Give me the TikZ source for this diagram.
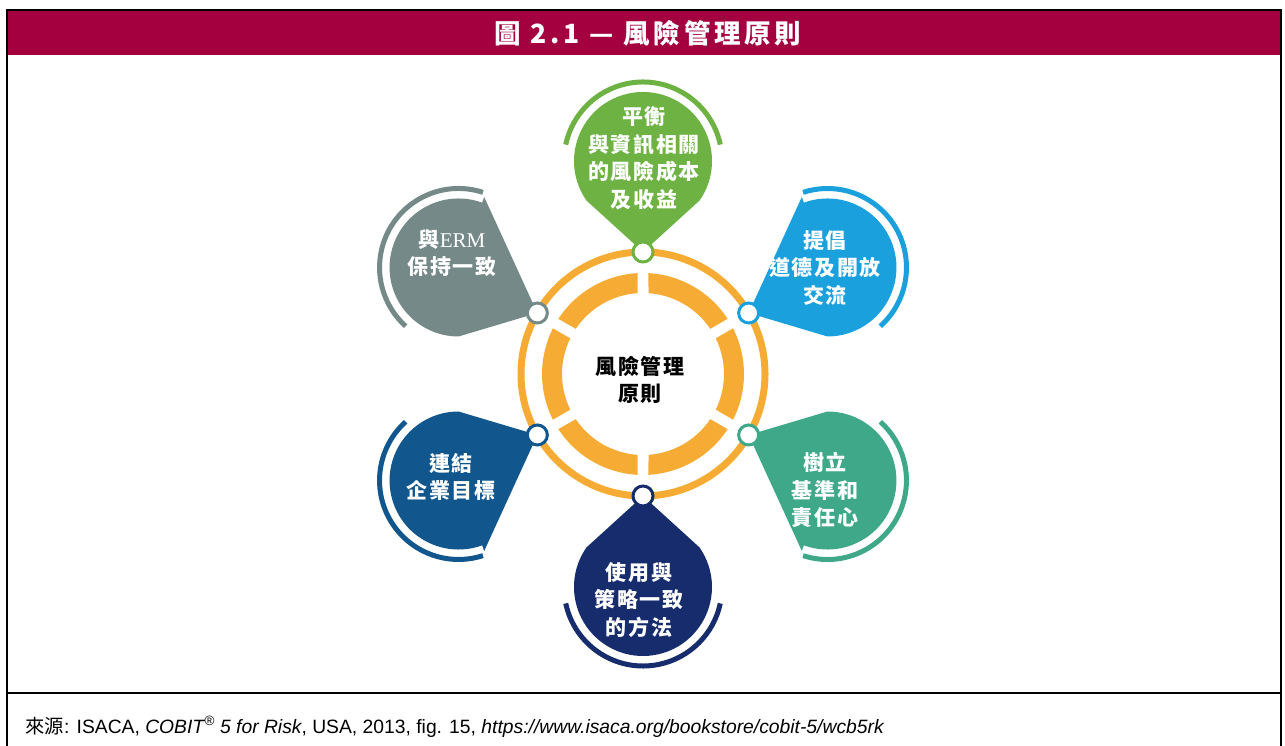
\documentclass[tikz,border=0pt]{standalone}
\usepackage{fontspec}
\setmainfont{Liberation Sans}
\newfontfamily\cjk{Noto Sans CJK TC}
\newfontfamily\cjkwide{Noto Sans CJK TC}[LetterSpace=8]
\newfontfamily\cjktitle{Noto Sans CJK TC}[LetterSpace=14]
\newfontfamily\serifen{Liberation Serif}
\usetikzlibrary{calc}

\definecolor{titlered}{RGB}{164,0,64}
\definecolor{ringorange}{RGB}{246,172,52}
\definecolor{pingreen}{RGB}{110,178,68}
\definecolor{pinblue}{RGB}{27,160,222}
\definecolor{pingray}{RGB}{118,137,137}
\definecolor{pinteal}{RGB}{62,168,136}
\definecolor{pinsteel}{RGB}{18,86,142}
\definecolor{pinnavy}{RGB}{22,44,108}

% #1 name, #2 colour, #3 angle round the ring, #4 start angle, #5 notch, #6 end angle
\newcommand{\riskpin}[6]{%
  \coordinate (#1) at ($(R)+(#3:213)$);
  \coordinate (#1-tip) at ($(R)+(#3:122)$);
  \fill[#2] (#1-tip) -- ($(#1)+(#4:{69+#5})$) -- ($(#1)+(#4:69)$)
    arc[start angle=#4, end angle=#6, radius=69] -- cycle;
  \draw[#2, line width=5pt] ($(#1)+({#3-78}:79)$) arc[start angle={#3-78}, end angle={#3+78}, radius=79];
  \draw[hook, draw=#2] (#1-tip) circle[radius=10];
}

\begin{document}
\begin{tikzpicture}[x=1pt, y=1pt]
			\tikzstyle{pintext} = [text=white, align=center, font=\cjkwide\bfseries\fontsize{21}{27.5}\selectfont]
			\tikzstyle{hook} = [line width=3pt, fill=white]
			\useasboundingbox (0,0) rectangle (1285,746);
			\fill[titlered] (7,691) rectangle (1281,736);
			\draw[line width=2pt] (7,0) -- (7,736) -- (1281,736) -- (1281,0);
			\draw[line width=1.5pt] (7,53) -- (1281,53);
			\node[text=white, font=\cjktitle\bfseries\fontsize{26.5}{26.5}\selectfont] (title) at (648,713) {圖 2.1 — 風險管理原則};
			\node[anchor=west, font=\fontsize{19.3}{19.3}\selectfont] (source) at (22,19) {{\cjk 來源}: ISACA, \textit{COBIT\textsuperscript{®} 5 for Risk}, USA, 2013, fig. 15, \textit{https://www.isaca.org/bookstore/cobit-5/wcb5rk}};
			\coordinate (R) at (643,372);
			\draw[ringorange, line width=7pt] (R) circle[radius=122];
			\foreach \a in {0,60,...,300}
				\fill[ringorange] ($(R)+({\a-26.9}:101)$) arc[start angle={\a-26.9}, end angle={\a+26.9}, radius=101]
					-- ($(R)+({\a+26.1}:81)$) arc[start angle={\a+26.1}, end angle={\a-26.1}, radius=81] -- cycle;
			\riskpin{green}{pingreen}{90}{325}{0}{575}
			\riskpin{blue}{pinblue}{30}{110}{6}{-90}
			\riskpin{gray}{pingray}{150}{70}{6}{270}
			\riskpin{steel}{pinsteel}{210}{-70}{6}{-270}
			\riskpin{teal}{pinteal}{330}{250}{6}{450}
			\riskpin{navy}{pinnavy}{270}{145}{0}{395}
			\node[align=center, font=\cjkwide\bfseries\fontsize{21}{27}\selectfont] (core) at (640,366) {風險管理\\原則};
			\node[pintext] (greentext) at (644,588) {平衡\\與資訊相關\\的風險成本\\及收益};
			\node[pintext] (bluetext) at (825,478) {提倡\\道德及開放\\交流};
			\node[pintext] (graytext) at (452,493) {與{\serifen\mdseries ERM}\\保持一致};
			\node[pintext] (steeltext) at (451,269) {連結\\企業目標};
			\node[pintext] (tealtext) at (825,256) {樹立\\基準和\\責任心};
			\node[pintext] (navytext) at (639,146) {使用與\\策略一致\\的方法};
\end{tikzpicture}
\end{document}
